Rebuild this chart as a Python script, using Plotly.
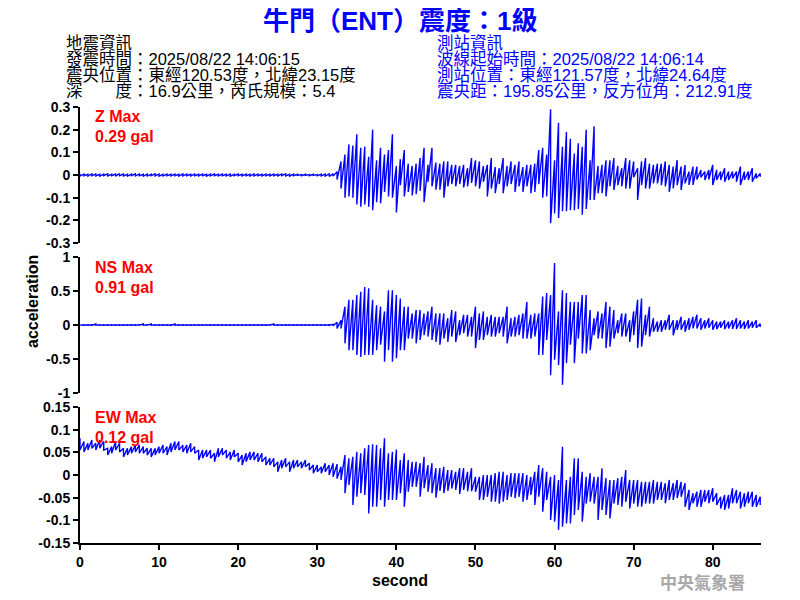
import plotly.graph_objects as go

# ---- data: per 0.5 s bin, the upper and lower extreme of each trace (gal) ----
DT = 0.5

z_hi = [0.005,0.004,0.003,0.005,0.004,0.003,0.004,0.005,0.003,0.004,
        0.006,0.004,0.003,0.004,0.005,0.004,0.003,0.004,0.003,0.005,
        0.004,0.003,0.004,0.003,0.004,0.003,0.005,0.004,0.003,0.004,
        0.003,0.004,0.003,0.004,0.005,0.003,0.004,0.003,0.004,0.003,
        0.004,0.003,0.004,0.003,0.005,0.004,0.003,0.004,0.003,0.004,
        0.003,0.004,0.005,0.003,0.004,0.003,0.002,0.003,0.002,0.003,
        0.002,0.003,0.004,0.005,0.005,0.015,0.06,0.09,0.135,0.13,
        0.18,0.12,0.125,0.08,0.2,0.065,0.12,0.09,0.11,0.18,
        0.04,0.07,0.11,0.05,0.04,0.05,0.075,0.12,0.045,0.12,
        0.055,0.05,0.06,0.06,0.045,0.045,0.04,0.045,0.03,0.075,
        0.065,0.06,0.04,0.045,0.075,0.035,0.03,0.075,0.04,0.06,
        0.045,0.06,0.035,0.045,0.045,0.05,0.11,0.12,0.09,0.29,
        0.065,0.23,0.125,0.19,0.16,0.095,0.14,0.125,0.2,0.065,
        0.215,0.04,0.045,0.065,0.065,0.075,0.04,0.03,0.075,0.065,
        0.06,0.03,0.06,0.075,0.05,0.045,0.05,0.05,0.06,0.045,
        0.037,0.066,0.037,0.044,0.015,0.037,0.037,0.022,0.015,0.022,
        0.044,0.022,0.015,0.03,0.015,0.015,0.015,0.037,0.015,0.015,
        0.03,0.007,0.007]
z_lo = [-0.004,-0.003,-0.005,-0.003,-0.004,-0.005,-0.003,-0.004,-0.003,-0.005,
        -0.003,-0.004,-0.005,-0.003,-0.004,-0.003,-0.005,-0.004,-0.003,-0.004,
        -0.005,-0.004,-0.003,-0.004,-0.003,-0.005,-0.004,-0.003,-0.004,-0.003,
        -0.004,-0.003,-0.005,-0.004,-0.003,-0.004,-0.003,-0.004,-0.005,-0.003,
        -0.003,-0.004,-0.003,-0.005,-0.004,-0.003,-0.004,-0.003,-0.004,-0.003,
        -0.004,-0.003,-0.004,-0.005,-0.003,-0.002,-0.003,-0.002,-0.003,-0.002,
        -0.003,-0.004,-0.005,-0.006,-0.005,-0.02,-0.06,-0.1,-0.095,-0.1,
        -0.13,-0.14,-0.13,-0.14,-0.155,-0.12,-0.125,-0.075,-0.095,-0.1,
        -0.165,-0.045,-0.095,-0.075,-0.09,-0.085,-0.07,-0.12,-0.03,-0.05,
        -0.065,-0.065,-0.1,-0.05,-0.04,-0.05,-0.04,-0.055,-0.05,-0.035,
        -0.05,-0.06,-0.03,-0.095,-0.06,-0.08,-0.04,-0.08,-0.05,-0.04,
        -0.075,-0.05,-0.075,-0.05,-0.08,-0.075,-0.04,-0.1,-0.095,-0.213,
        -0.17,-0.19,-0.16,-0.16,-0.155,-0.155,-0.15,-0.175,-0.15,-0.11,
        -0.11,-0.08,-0.08,-0.095,-0.05,-0.066,-0.045,-0.05,-0.06,-0.06,
        -0.01,-0.11,-0.045,-0.06,-0.06,-0.037,-0.037,-0.045,-0.05,-0.074,
        -0.059,-0.045,-0.066,-0.037,-0.044,-0.044,-0.02,-0.01,-0.022,-0.02,
        -0.044,-0.022,-0.022,-0.03,-0.022,-0.015,-0.03,-0.044,-0.022,-0.022,
        -0.03,-0.015,-0.008]

ns_hi = [0.003,0.002,0.003,0.002,0.015,0.003,0.002,0.003,0.002,0.003,
         0.002,0.003,0.002,0.003,0.002,0.003,0.015,0.002,0.015,0.003,
         0.002,0.003,0.002,0.003,0.015,0.002,0.003,0.002,0.003,0.002,
         0.003,0.002,0.003,0.002,0.003,0.002,0.003,0.002,0.003,0.002,
         0.003,0.002,0.003,0.002,0.003,0.002,0.003,0.002,0.003,0.015,
         0.003,0.002,0.003,0.002,0.003,0.002,0.003,0.002,0.003,0.002,
         0.003,0.002,0.003,0.004,0.01,0.04,0.07,0.27,0.37,0.37,
         0.44,0.49,0.56,0.54,0.37,0.29,0.27,0.2,0.51,0.51,
         0.44,0.39,0.27,0.27,0.17,0.22,0.22,0.17,0.2,0.27,
         0.17,0.17,0.17,0.1,0.22,0.2,0.07,0.15,0.15,0.12,
         0.27,0.17,0.2,0.12,0.15,0.12,0.12,0.12,0.27,0.1,
         0.12,0.15,0.17,0.34,0.15,0.17,0.17,0.42,0.47,0.44,
         0.91,0.2,0.51,0.47,0.34,0.34,0.34,0.44,0.44,0.22,
         0.1,0.2,0.17,0.34,0.27,0.22,0.07,0.17,0.17,0.07,
         0.2,0.37,0.39,0.15,0.27,0.1,0.05,0.07,0.07,0.15,
         0.07,0.07,0.12,0.07,0.1,0.12,0.15,0.1,0.07,0.1,
         0.07,0.05,0.05,0.07,0.05,0.07,0.1,0.07,0.05,0.07,
         0.05,0.07,0.02]
ns_lo = [-0.002,-0.003,-0.002,-0.003,-0.002,-0.003,-0.002,-0.003,-0.002,-0.003,
         -0.003,-0.002,-0.003,-0.002,-0.003,-0.002,-0.003,-0.002,-0.003,-0.002,
         -0.002,-0.003,-0.002,-0.003,-0.002,-0.003,-0.002,-0.003,-0.002,-0.003,
         -0.003,-0.002,-0.003,-0.002,-0.003,-0.002,-0.003,-0.002,-0.003,-0.002,
         -0.002,-0.003,-0.002,-0.003,-0.002,-0.003,-0.002,-0.003,-0.002,-0.003,
         -0.003,-0.002,-0.003,-0.002,-0.003,-0.002,-0.003,-0.002,-0.003,-0.002,
         -0.002,-0.003,-0.002,-0.004,-0.01,-0.05,-0.05,-0.27,-0.37,-0.37,
         -0.44,-0.47,-0.44,-0.44,-0.44,-0.37,-0.29,-0.54,-0.37,-0.54,
         -0.49,-0.37,-0.37,-0.2,-0.2,-0.27,-0.22,-0.15,-0.17,-0.22,
         -0.25,-0.29,-0.2,-0.25,-0.17,-0.25,-0.15,-0.12,-0.17,-0.17,
         -0.34,-0.22,-0.22,-0.15,-0.17,-0.17,-0.12,-0.17,-0.27,-0.17,
         -0.17,-0.15,-0.2,-0.2,-0.2,-0.17,-0.44,-0.44,-0.22,-0.74,
         -0.51,-0.59,-0.88,-0.56,-0.29,-0.56,-0.2,-0.42,-0.42,-0.37,
         -0.15,-0.2,-0.2,-0.34,-0.32,-0.2,-0.12,-0.17,-0.17,-0.25,
         -0.15,-0.34,-0.32,-0.15,-0.17,-0.1,-0.1,-0.1,-0.07,-0.07,
         -0.15,-0.07,-0.07,-0.1,-0.07,-0.05,-0.05,-0.07,-0.05,-0.04,
         -0.07,-0.06,-0.04,-0.06,-0.05,-0.06,-0.06,-0.05,-0.06,-0.05,
         -0.04,-0.04,-0.03]

ew_hi = [0.081,0.074,0.07,0.077,0.07,0.077,0.074,0.059,0.0625,0.074,
         0.07,0.059,0.059,0.0625,0.066,0.066,0.0625,0.059,0.059,0.059,
         0.0625,0.066,0.0625,0.07,0.074,0.074,0.066,0.066,0.07,0.0625,
         0.055,0.055,0.055,0.055,0.048,0.059,0.059,0.055,0.051,0.055,
         0.048,0.044,0.048,0.051,0.051,0.048,0.048,0.04,0.037,0.037,
         0.029,0.033,0.037,0.029,0.033,0.033,0.029,0.033,0.026,0.022,
         0.022,0.018,0.026,0.022,0.026,0.024,0.018,0.044,0.037,0.04,
         0.051,0.048,0.059,0.066,0.068,0.066,0.059,0.081,0.048,0.051,
         0.056,0.033,0.048,0.033,0.029,0.029,0.026,0.04,0.022,0.026,
         0.015,0.015,0.018,0.011,0.011,0.007,0.015,0.015,0.007,0.015,
         -0.004,-0.004,0.0,0.0,0.0,0.004,0.007,0.007,0.0,0.004,
         0.004,0.004,0.004,0.0,-0.004,0.007,0.022,0.015,0.007,-0.004,
         0.0,-0.011,0.0625,-0.011,-0.004,0.037,0.037,0.007,-0.004,0.004,
         -0.004,-0.004,0.015,-0.007,-0.011,-0.011,-0.007,-0.004,0.011,-0.011,
         -0.011,-0.011,-0.015,-0.015,-0.015,-0.011,-0.015,-0.015,-0.018,-0.011,
         -0.018,-0.011,-0.015,-0.018,-0.033,-0.04,-0.037,-0.033,-0.033,-0.033,
         -0.029,-0.04,-0.048,-0.044,-0.044,-0.029,-0.033,-0.037,-0.04,-0.037,
         -0.037,-0.044,-0.048]
ew_lo = [0.055,0.051,0.055,0.059,0.055,0.059,0.055,0.044,0.048,0.055,
         0.051,0.04,0.044,0.048,0.051,0.048,0.048,0.044,0.04,0.044,
         0.048,0.048,0.044,0.051,0.055,0.055,0.051,0.048,0.051,0.048,
         0.033,0.037,0.04,0.037,0.029,0.04,0.044,0.037,0.033,0.04,
         0.029,0.022,0.029,0.033,0.033,0.029,0.029,0.022,0.022,0.018,
         0.007,0.015,0.018,0.007,0.015,0.018,0.015,0.018,0.011,0.004,
         0.007,0.004,0.007,0.0,-0.004,-0.008,-0.011,-0.04,-0.022,-0.066,
         -0.048,-0.04,-0.044,-0.085,-0.07,-0.07,-0.055,-0.07,-0.055,-0.055,
         -0.055,-0.04,-0.07,-0.037,-0.026,-0.026,-0.048,-0.029,-0.037,-0.04,
         -0.05,-0.035,-0.04,-0.035,-0.03,-0.033,-0.042,-0.033,-0.036,-0.036,
         -0.037,-0.055,-0.055,-0.048,-0.059,-0.059,-0.063,-0.059,-0.055,-0.048,
         -0.051,-0.048,-0.059,-0.055,-0.044,-0.066,-0.048,-0.081,-0.055,-0.099,
         -0.103,-0.121,-0.114,-0.107,-0.107,-0.088,-0.077,-0.103,-0.063,-0.059,
         -0.063,-0.099,-0.077,-0.088,-0.096,-0.063,-0.066,-0.07,-0.059,-0.074,
         -0.063,-0.07,-0.07,-0.063,-0.063,-0.063,-0.055,-0.055,-0.0625,-0.055,
         -0.055,-0.051,-0.048,-0.07,-0.077,-0.0625,-0.07,-0.07,-0.059,-0.0625,
         -0.059,-0.066,-0.074,-0.077,-0.074,-0.0625,-0.0625,-0.074,-0.07,-0.0625,
         -0.07,-0.07,-0.066]

x_ticks = [0, 10, 20, 30, 40, 50, 60, 70, 80]
z_ticks = [0.3, 0.2, 0.1, 0, -0.1, -0.2, -0.3]
z_labels = ["0.3", "0.2", "0.1", "0", "-0.1", "-0.2", "-0.3"]
ns_ticks = [1, 0.5, 0, -0.5, -1]
ns_labels = ["1", "0.5", "0", "-0.5", "-1"]
ew_ticks = [0.15, 0.1, 0.05, 0, -0.05, -0.1, -0.15]
ew_labels = ["0.15", "0.1", "0.05", "0", "-0.05", "-0.1", "-0.15"]

title_text = "牛門（ENT）震度：1級"
left_info = ["地震資訊", "發震時間：2025/08/22 14:06:15",
             "震央位置：東經120.53度，北緯23.15度", "深\u3000\u3000度：16.9公里，芮氏規模：5.4"]
right_info = ["測站資訊", "波線起始時間：2025/08/22 14:06:14",
              "測站位置：東經121.57度，北緯24.64度", "震央距：195.85公里，反方位角：212.91度"]
max_labels = [("Z Max", "0.29 gal"), ("NS Max", "0.91 gal"), ("EW Max", "0.12 gal")]

# ---------------------------------------------------------------------------
# The page body keeps its 8 px margin, so the figure is sized to fill the
# rest of the 800x600 window and every position below is given in window px.
OFF = 8
W, H = 800 - OFF, 600 - OFF
FONT = "Liberation Sans, Arial, Noto Sans CJK TC, sans-serif"


def px(x):
    return (x - OFF) / W


def py(y):
    return 1 - (y - OFF) / H


def strokes(hi, lo):
    # min/max of each bin drawn as a vertical stroke, joined to the next bin
    xs, ys = [], []
    for i, (h, l) in enumerate(zip(hi, lo)):
        t = i * DT
        xs += [t, t]
        ys += [h, l]
    return xs, ys


fig = go.Figure()
for hi, lo, ya in [(z_hi, z_lo, "y"), (ns_hi, ns_lo, "y2"), (ew_hi, ew_lo, "y3")]:
    xs, ys = strokes(hi, lo)
    fig.add_trace(go.Scatter(x=xs, y=ys, mode="lines", xaxis="x", yaxis=ya,
                             line=dict(color="#0000ff", width=1.4),
                             showlegend=False, hoverinfo="skip"))

tickfont = dict(family=FONT, size=14, color="black", weight="bold")
common_y = dict(anchor="x", showline=True, linecolor="black", linewidth=2,
                ticks="outside", ticklen=5, tickwidth=1.5, tickcolor="black",
                showgrid=False, zeroline=False, tickfont=tickfont,
                automargin=False, fixedrange=True)

x0, x1 = 80, 761
fig.update_layout(
    width=W, height=H,
    margin=dict(l=0, r=0, t=0, b=0, pad=0, autoexpand=False),
    paper_bgcolor="white", plot_bgcolor="white",
    showlegend=False,
    xaxis=dict(domain=[px(x0), px(x1)], range=[0, 86.1], anchor="y3",
               showline=True, linecolor="black", linewidth=2,
               ticks="outside", ticklen=5, tickwidth=1.5, tickcolor="black",
               tickvals=x_ticks, showgrid=False, zeroline=False, tickfont=tickfont,
               automargin=False),
    yaxis=dict(domain=[py(243), py(107)], range=[-0.3, 0.3],
               tickvals=z_ticks, ticktext=z_labels, **common_y),
    yaxis2=dict(domain=[py(393), py(257)], range=[-1, 1],
                tickvals=ns_ticks, ticktext=ns_labels, **common_y),
    yaxis3=dict(domain=[py(543), py(407)], range=[-0.15, 0.15],
                tickvals=ew_ticks, ticktext=ew_labels, **common_y),
)

ann = []
ann.append(dict(x=px(400), y=py(21), text=title_text,
                xanchor="center", yanchor="middle",
                font=dict(family=FONT, size=26, color="#0000ff", weight="bold")))
for i, line in enumerate(left_info):
    ann.append(dict(x=px(64), y=py(43 + 16 * i), text=line,
                    xanchor="left", yanchor="middle",
                    font=dict(family=FONT, size=16.5, color="black")))
for i, line in enumerate(right_info):
    ann.append(dict(x=px(435), y=py(43 + 16 * i), text=line,
                    xanchor="left", yanchor="middle",
                    font=dict(family=FONT, size=16.5, color="#0000ff")))
for (l1, l2), top in zip(max_labels, [107, 257, 407]):
    ann.append(dict(x=px(93), y=py(top + 10), text=l1,
                    xanchor="left", yanchor="middle",
                    font=dict(family=FONT, size=16, color="#ff0000", weight="bold")))
    ann.append(dict(x=px(93), y=py(top + 30), text=l2,
                    xanchor="left", yanchor="middle",
                    font=dict(family=FONT, size=16, color="#ff0000", weight="bold")))
ann.append(dict(x=px(32), y=py(302), text="acceleration",
                textangle=-90, xanchor="center", yanchor="middle",
                font=dict(family=FONT, size=16, color="black", weight="bold")))
ann.append(dict(x=px(400), y=py(580), text="second",
                xanchor="center", yanchor="middle",
                font=dict(family=FONT, size=16, color="black", weight="bold")))
ann.append(dict(x=px(702), y=py(581), text="中央氣象署",
                xanchor="center", yanchor="middle",
                font=dict(family="Noto Sans CJK TC, sans-serif", size=17,
                          color="#a8a8a8", weight="bold")))
for a in ann:
    a["xref"] = "paper"
    a["yref"] = "paper"
    a["showarrow"] = False
fig.update_layout(annotations=ann)

fig.write_html("out.html")
